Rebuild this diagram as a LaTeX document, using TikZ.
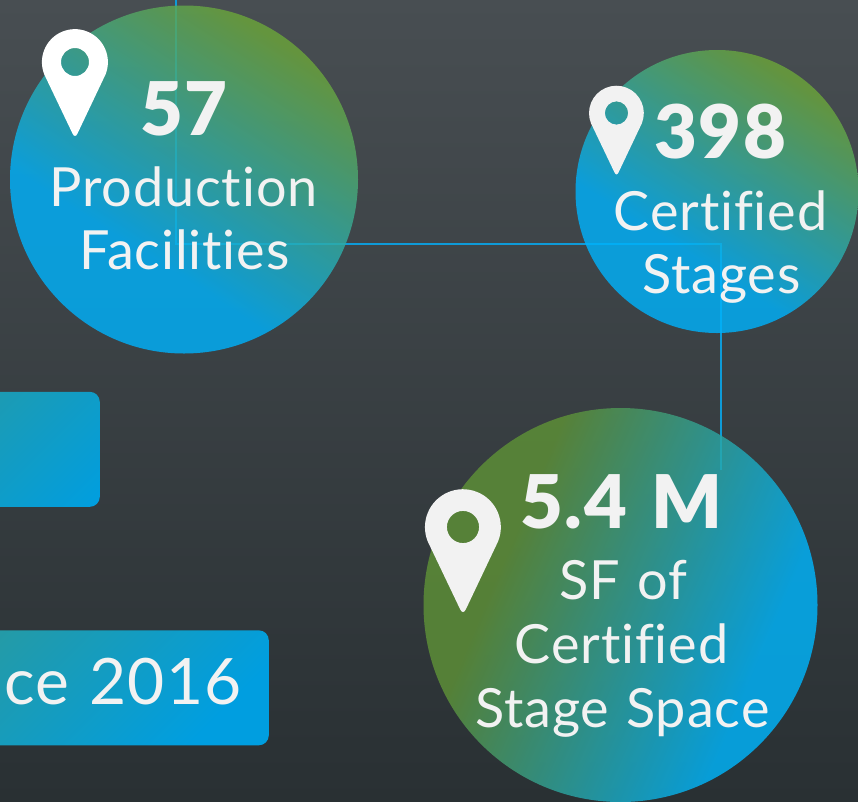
\documentclass[tikz,border=0pt]{standalone}
\usepackage{fontspec}
\setmainfont{Lato}[Ligatures=NoCommon,LetterSpace=1.6,WordSpace=1.15]
\newfontfamily\heavyf{Lato Black}[LetterSpace=2.5,WordSpace=1.3]
\usetikzlibrary{positioning}
\definecolor{bgtop}{HTML}{484E52}
\definecolor{bgbot}{HTML}{293033}
\definecolor{tx}{HTML}{F2F2F2}
\definecolor{lin}{HTML}{0E9BD8}
\definecolor{cg}{RGB}{107,165,59}
\definecolor{cb}{RGB}{0,177,250}
\definecolor{cgd}{RGB}{94,145,55}
\definecolor{cbd}{RGB}{0,181,252}
\definecolor{rt}{RGB}{100,148,64}
\definecolor{rb}{HTML}{009EE0}
\pgfdeclareverticalshading{bggrad}{100bp}{color(0bp)=(bgbot); color(25bp)=(bgbot); color(75bp)=(bgtop); color(100bp)=(bgtop)}
\pgfdeclareverticalshading{gradA}{100bp}{color(0bp)=(cb); color(38bp)=(cb); color(74bp)=(cg); color(100bp)=(cg)}
\pgfdeclareverticalshading{gradC}{100bp}{color(0bp)=(cbd); color(31bp)=(cbd); color(66bp)=(cgd); color(100bp)=(cgd)}
\pgfdeclareverticalshading{gradR}{100bp}{color(0bp)=(rb); color(50bp)=(rb); color(84bp)=(rt); color(100bp)=(rt)}
\tikzset{
  x=1pt,y=1pt,
  disc/.style={circle,inner sep=0pt,draw=none,opacity=.82},
  rbox/.style={anchor=south east,inner sep=0pt,rounded corners=10pt,minimum height=115pt,
    path picture={\shade[shading=gradR,shading angle=45]
      ([shift={(-400,-400)}]path picture bounding box.south east) rectangle +(800,800);}},
  conn/.style={draw=lin,line width=1.2pt},
  big/.style={anchor=base,inner sep=0pt,text=tx,font=\fontsize{74}{74}\heavyf\selectfont},
  lab/.style={anchor=base,inner sep=0pt,text=tx,font=\fontsize{54}{54}\selectfont},
  pin/.pic={\fill[even odd rule,pic actions]
     (2.5,-71.5) -- (30.5,-12.5) arc[start angle=-22,end angle=202,radius=33]
     -- (-2.5,-71.5) .. controls (-1,-74.8) and (1,-74.8) .. cycle
     (14,0) arc[start angle=0,end angle=360,radius=14];}
}
\begin{document}
\begin{tikzpicture}
\useasboundingbox (0,-801) rectangle (858,0);
\shade[shading=bggrad] (0,-801) rectangle (858,0);
% connector path
\coordinate (lineTop) at (176,0);
\coordinate (cornerA) at (176,-244);
\coordinate (cornerB) at (721,-244);
\coordinate (lineEnd) at (721,-470);
\draw[conn] (lineTop) -- (cornerA) -- (cornerB) -- (lineEnd);
% boxes
\node[rbox,minimum width=330pt] (boxA) at (100,-507) {};
\node[rbox,minimum width=560pt] (boxB) at (269,-745.5) {};
% discs
\node[disc,minimum size=348pt,shading=gradA,shading angle=-32.6] (discA) at (184,-179.5) {};
\node[disc,minimum size=283pt,shading=gradA,shading angle=-32.6] (discB) at (717,-191.5) {};
\node[disc,minimum size=394pt,shading=gradC,shading angle=67] (discC) at (620.5,-605) {};
% pins
\pic[fill=white] at (75,-62) {pin};
\pic[fill=tx,scale=.83] at (616.5,-113) {pin};
\pic[fill=tx,scale=1.15] at (463,-527) {pin};
% labels
\node[big] (n1) at (184,-135) {57};
\node[lab] (t1a) at (183.5,-206) {Production};
\node[lab] (t1b) at (184.5,-269) {Facilities};
\node[big] (n2) at (720.5,-158) {398};
\node[lab] (t2a) at (720.5,-230) {Certified};
\node[lab] (t2b) at (721.5,-293) {Stages};
\node[big] (n3) at (621.5,-528) {5.4 M};
\node[lab] (t3a) at (623.5,-599) {SF of};
\node[lab] (t3b) at (621.5,-663) {Certified};
\node[lab] (t3c) at (622.5,-727) {Stage Space};
\node[lab,anchor=base east,font=\fontsize{64}{64}\selectfont] (t4) at (241.5,-704) {nce 2016};
\end{tikzpicture}
\end{document}
